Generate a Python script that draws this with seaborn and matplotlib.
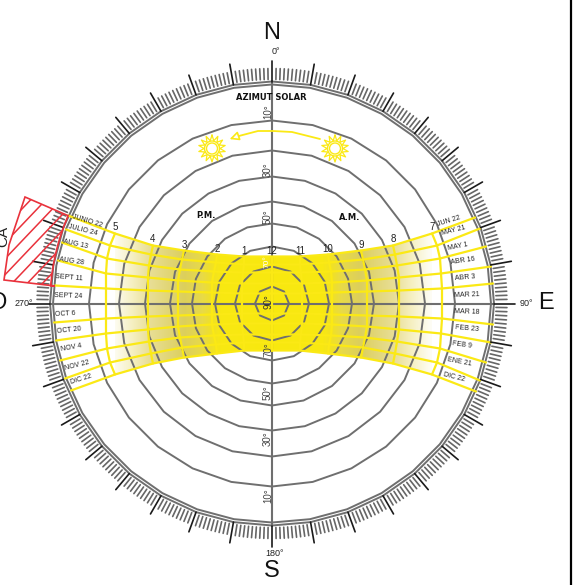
import numpy as np
import pandas as pd
import matplotlib
matplotlib.use('Agg')
import matplotlib.pyplot as plt
import seaborn as sns
from matplotlib.colors import LinearSegmentedColormap
from matplotlib.patches import Polygon, Circle

# altitude rings: radius and number of polygon sides, inner to outer
ring_radius = [17, 37, 57, 80, 102, 127, 153, 183, 219, 222]
ring_sides = [8, 12, 16, 20, 20, 24, 24, 28, 36, 36]

# date curves (top to bottom): height above the E-W axis at each column
# columns: left edge, 5, 4, 3, 2, 1, 12, 11, 10, 9, 8, 7, right edge
date_height = [
    [88, 70, 58, 53, 49, 47, 47, 47, 49, 53, 58, 70, 86],
    [74, 58, 49, 44, 41, 39, 39, 39, 41, 44, 49, 58, 75],
    [61, 45, 38, 34, 32, 31, 31, 31, 32, 34, 38, 45, 57],
    [43, 30, 26, 23, 21, 20, 20, 20, 21, 23, 26, 30, 37],
    [18, 15, 13, 12, 11, 10, 10, 10, 11, 12, 13, 15, 20],
    [-19, -15, -13, -12, -11, -10, -10, -10, -11, -12, -13, -15, -21],
    [-37, -30, -26, -23, -21, -20, -20, -20, -21, -23, -26, -30, -39],
    [-57, -45, -38, -34, -32, -31, -31, -31, -32, -34, -38, -45, -59],
    [-75, -59, -50, -44, -41, -39, -39, -39, -41, -44, -50, -59, -77],
    [-87, -71, -60, -54, -50, -47, -47, -47, -50, -54, -60, -71, -88],
]
edge_left = [-204, -206, -210, -214, -217, -218, -216, -212, -207, -201]
edge_right = [203, 208, 214, 219, 221, 221, 219, 214, 208, 204]

# hour curves: offset from the N-S axis at each date curve
hour_labels = ['5', '4', '3', '2', '1', '12', '11', '10', '9', '8', '7']
hour_offset = [
    [-157, -162, -165, -166, -166, -166, -166, -165, -162, -157],
    [-119, -121, -123, -124, -124, -124, -124, -123, -121, -119],
    [-88, -90, -92, -94, -94, -94, -94, -92, -90, -88],
    [-55, -56, -58, -60, -60, -60, -60, -58, -56, -55],
    [-28, -28, -29, -30, -30, -30, -30, -29, -28, -28],
    [0, 0, 0, 0, 0, 0, 0, 0, 0, 0],
    [28, 28, 29, 30, 30, 30, 30, 29, 28, 28],
    [56, 57, 59, 60, 60, 60, 60, 59, 57, 56],
    [89, 91, 93, 95, 95, 95, 95, 93, 91, 89],
    [121, 123, 125, 127, 127, 127, 127, 125, 123, 121],
    [160, 165, 168, 169, 170, 170, 169, 168, 165, 160],
]

left_dates = ['JUNIO 22', 'JULIO 24', 'AUG 13', 'AUG 28', 'SEPT 11', 'SEPT 24',
              'OCT 6', 'OCT 20', 'NOV 4', 'NOV 22', 'DIC 22']
right_dates = ['JUN 22', 'MAY 21', 'MAY 1', 'ABR 16', 'ABR 3', 'MAR 21',
               'MAR 18', 'FEB 23', 'FEB 9', 'ENE 21', 'DIC 22']
altitude_labels = ['10°', '30°', '50°', '70°', '50°', '30°', '10°']

# label placement in picture pixels
left_date_pos = [(87, 221), (83, 230), (76, 244), (72, 261), (69, 278), (68, 296),
                 (65, 314), (69, 330), (71, 348), (77, 365), (81, 379)]
left_date_rot = [-17, -14, -12, -8, -5, -2, 3, 6, 10, 14, 17]
right_date_pos = [(449, 221), (454, 231), (458, 247), (463, 261), (465, 278), (467, 295),
                  (467, 312), (467, 329), (462, 345), (459, 362), (454, 377)]
right_date_rot = [17, 14, 11, 8, 5, 2, -2, -5, -8, -11, -14]
altitude_y = [112, 170, 217, 350, 393, 439, 496]

# red mask: outline and hatch lines (y + 1.05 x = offset)
mask_outline = [(25, 197), (9, 245), (4, 280), (55, 286)]
hatch_offsets = [232, 248, 264, 280, 296, 312, 328]

cx, cy = 272, 303.5
GREY = '#6f6f6f'
YELLOW = '#fbe915'
RED = '#e9323c'

sns.set_theme(style='white')
plt.rcParams['font.family'] = ['Liberation Sans', 'DejaVu Sans']

fig = plt.figure(figsize=(5.73, 5.85), dpi=100)
ax = fig.add_axes([0, 0, 1, 1])


def draw_lines(rows, color, lw, zorder=3):
    df = pd.DataFrame(rows, columns=['x', 'y', 'line'])
    return sns.lineplot(data=df, x='x', y='y', units='line', estimator=None, sort=False,
                        color=color, linewidth=lw, zorder=zorder, ax=ax, legend=False)


def polar(azimuth, radius):
    a = np.radians(azimuth)
    return cx + radius * np.sin(a), cy - radius * np.cos(a)


# gradient band between the solstice curves
stops = [(0.0, '#f9e90f'), (0.30, '#f8e812'), (0.36, '#f0e028'), (0.41, '#e8da48'),
         (0.52, '#dccf5c'), (0.72, '#e8de96'), (0.82, '#f5efc0'), (0.93, '#fdfcf2'), (1.0, '#ffffff')]
band_cmap = LinearSegmentedColormap.from_list('band', stops)
grad = np.abs(np.linspace(-1, 1, 341)).reshape(1, -1)
img = ax.imshow(grad, cmap=band_cmap, vmin=0, vmax=1, aspect='auto', zorder=1,
                extent=[cx - 170, cx + 170, cy + 95, cy - 95], interpolation='bilinear')
band_top = [(cx + hx[0], cy - date_height[0][i + 1]) for i, hx in enumerate(hour_offset)]
band_bottom = [(cx + hx[-1], cy - date_height[-1][i + 1]) for i, hx in enumerate(hour_offset)]
band_clip = Polygon(band_top + band_bottom[::-1], transform=ax.transData, fill=False, lw=0)
ax.add_patch(band_clip)
img.set_clip_path(band_clip)

# altitude rings and main axes
rows = []
for i, (r, n) in enumerate(zip(ring_radius, ring_sides)):
    for az in np.linspace(0, 360, n + 1):
        x, y = polar(az, r)
        rows.append((x, y, i))
draw_lines(rows, GREY, 1.4, zorder=2)
draw_lines([(cx - 222, cy, 0), (cx + 222, cy, 0), (cx, cy - 222, 1), (cx, cy + 222, 1)], GREY, 1.5, zorder=2)

# date and hour curves sit over the rings
rows = []
for d, heights in enumerate(date_height):
    xs = [edge_left[d]] + [hx[d] for hx in hour_offset] + [edge_right[d]]
    rows += [(cx + x, cy - h, d) for x, h in zip(xs, heights)]
draw_lines(rows, YELLOW, 1.6, zorder=3)
rows = []
for h, hx in enumerate(hour_offset):
    rows += [(cx + x, cy - date_height[d][h + 1], h) for d, x in enumerate(hx)]
draw_lines(rows, YELLOW, 1.6, zorder=3)

# azimuth scale
rows = []
for az in range(360):
    if az % 10:
        rows += [(*polar(az, 224), az), (*polar(az, 235), az)]
draw_lines(rows, '#666666', 1.2)
rows = []
for az in range(0, 360, 10):
    rows += [(*polar(az, 222), az), (*polar(az, 243), az)]
draw_lines(rows, '#1a1a1a', 1.2)

# shading mask with the red hatching
wedge = list(mask_outline)
for az in np.linspace(274.6, 293.3, 8):
    wedge.append(polar(az, 222))
mask = Polygon(wedge, fill=False, edgecolor=RED, lw=1.2, zorder=4)
ax.add_patch(mask)
rows = []
for i, c in enumerate(hatch_offsets):
    rows += [(0, c, i), (80, c - 1.05 * 80, i)]
before = len(ax.lines)
draw_lines(rows, RED, 1.1, zorder=4)
for line in ax.lines[before:]:
    line.set_clip_path(mask)

# suns and the arrow between them
for sx in [212, 335]:
    sy = 148.5
    ax.add_patch(Circle((sx, sy), 5.5, fill=False, ec=YELLOW, lw=1.0, zorder=3))
    ax.add_patch(Circle((sx, sy), 7.5, fill=False, ec=YELLOW, lw=1.0, zorder=3))
    spikes = np.linspace(0, 360, 29)
    spike_r = [8 if i % 2 else 13.5 for i in range(29)]
    ax.plot(sx + np.array(spike_r) * np.sin(np.radians(spikes)),
            sy - np.array(spike_r) * np.cos(np.radians(spikes)), color=YELLOW, lw=0.9, zorder=3)
draw_lines([(320, 139, 0), (292, 132, 0), (273, 131, 0), (258, 131, 0), (235, 137, 0)], YELLOW, 1.3)
ax.annotate('', xy=(227, 140), xytext=(237, 136.5), zorder=3,
            arrowprops=dict(arrowstyle='-|>,head_width=0.22,head_length=0.45', fc='white', ec=YELLOW, lw=1.2))

# text
for name, x, y in [('N', 272, 33), ('S', 272, 571), ('E', 546, 303), ('O', -2, 303)]:
    ax.text(x, y, name, fontsize=17, ha='center', va='center', color='#111111')
for name, x, y in [('0°', 276, 52), ('180°', 275, 554), ('90°', 526, 303), ('270°', 24, 303)]:
    ax.text(x, y, name, fontsize=6.5, ha='center', va='center', color='#222222')
for name, y in zip(altitude_labels, altitude_y):
    ax.text(268, y, name, fontsize=7, rotation=90, ha='center', va='center', color='#444444', zorder=5)
ax.text(268.5, 302, '90°', fontsize=7, rotation=90, ha='center', va='center', color='#333333', zorder=5)
ax.text(267, 262, '70°', fontsize=6, rotation=90, ha='center', va='center', color='white', zorder=5)
ax.text(271, 97, 'AZIMUT SOLAR', fontsize=6, fontweight='bold', family='DejaVu Sans', ha='center', va='center', color='#111111', zorder=5)
ax.text(206, 215, 'P.M.', fontsize=6, fontweight='bold', family='DejaVu Sans', ha='center', va='center', color='#111111')
ax.text(350, 217, 'A.M.', fontsize=6, fontweight='bold', family='DejaVu Sans', ha='center', va='center', color='#111111')
ax.text(3, 236, 'CA', fontsize=11, rotation=90, ha='center', va='center', color='#222222')

for i, label in enumerate(hour_labels):
    ax.text(cx + hour_offset[i][0], cy - date_height[0][i + 1] - 6, label, fontsize=7,
            ha='center', va='center', color='#222222', zorder=5)
for label, pos, rot in zip(left_dates + right_dates, left_date_pos + right_date_pos,
                           left_date_rot + right_date_rot):
    ax.text(pos[0], pos[1], label, fontsize=5, rotation=rot, ha='center', va='center',
            color='#222222', rotation_mode='anchor', zorder=5)

# frame line on the right of the picture
ax.axvline(570.5, color='black', lw=1.6)

ax.set_xlim(0, 573)
ax.set_ylim(585, 0)
ax.axis('off')
plt.savefig('out.png', dpi=100)
plt.close()
